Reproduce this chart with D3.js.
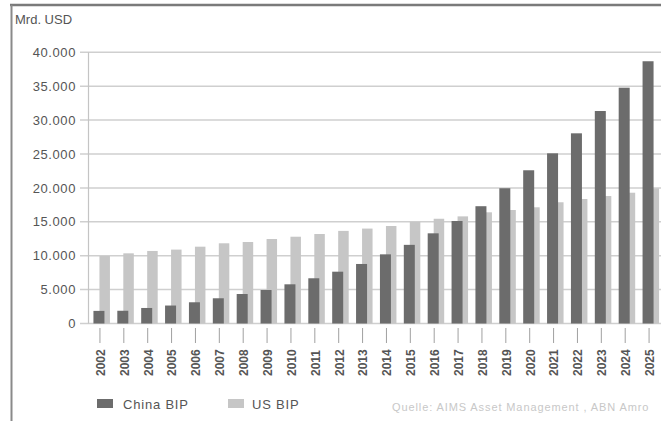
<!DOCTYPE html>
<html>
<head>
<meta charset="utf-8">
<script src="https://cdn.jsdelivr.net/npm/d3@7"></script>
<style>
  body { margin: 0; background: #fff; }
  svg { display: block; font-family: "Liberation Sans", Arial, sans-serif; }
</style>
</head>
<body>
<svg id="chart" width="661" height="421"></svg>
<script>
// values (Mrd. USD)
const years = ["2002","2003","2004","2005","2006","2007","2008","2009","2010","2011","2012","2013",
               "2014","2015","2016","2017","2018","2019","2020","2021","2022","2023","2024","2025"];
const chinaBip = [1860, 1880, 2290, 2650, 3130, 3720, 4350, 4940, 5780, 6670, 7640, 8780,
                  10200, 11600, 13300, 15120, 17300, 19950, 22600, 25100, 28050, 31340, 34780, 38680];
const usBip = [9960, 10350, 10700, 10900, 11330, 11830, 12020, 12460, 12800, 13200, 13660, 14000,
               14380, 15000, 15450, 15800, 16400, 16740, 17140, 17880, 18360, 18800, 19290, 19940];
const yTicks = [0, 5000, 10000, 15000, 20000, 25000, 30000, 35000, 40000];
const seriesNames = ["China BIP", "US BIP"];

const svg = d3.select("#chart");
const colors = {china: "#6c6c6c", us: "#c6c6c6"};

// frame (top and left border)
svg.append("line").attr("x1", 10).attr("x2", 661).attr("y1", 5).attr("y2", 5)
    .attr("stroke", "#7a7a7a").attr("stroke-width", 2.5);
svg.append("line").attr("x1", 11.5).attr("x2", 11.5).attr("y1", 5).attr("y2", 421)
    .attr("stroke", "#8a8a8a").attr("stroke-width", 2);

const x = d3.scaleBand().domain(years).range([88, 661]).padding(0);
const y = d3.scaleLinear().domain([0, 40000]).range([323.5, 52.3]);
const cx = d => x(d) + x.bandwidth() / 2;

// gridlines
svg.append("g").selectAll("line")
    .data(yTicks)
    .enter().append("line")
    .attr("x1", 80).attr("x2", 661)
    .attr("y1", d => y(d)).attr("y2", d => y(d))
    .attr("stroke", "#cfcfcf").attr("stroke-width", 1.5);

// y axis line
svg.append("line").attr("x1", 88.5).attr("x2", 88.5)
    .attr("y1", y(40000)).attr("y2", y(0))
    .attr("stroke", "#c4c4c4").attr("stroke-width", 1.2);

// y tick labels
const fmt = d => d3.format(",")(d).replace(/,/g, ".");
svg.append("g").selectAll("text")
    .data(yTicks)
    .enter().append("text")
    .attr("x", 76).attr("y", d => y(d))
    .attr("dy", "0.36em")
    .attr("text-anchor", "end")
    .attr("font-size", 13)
    .attr("letter-spacing", 0.6)
    .attr("fill", "#555")
    .text(fmt);

svg.append("text").attr("x", 15).attr("y", 24)
    .attr("font-size", 13).attr("fill", "#555")
    .text("Mrd. USD");

// bars: US behind, China in front
svg.append("g").selectAll("rect")
    .data(years)
    .enter().append("rect")
    .attr("x", d => cx(d) - 0.5)
    .attr("width", 10.5)
    .attr("y", (d, i) => y(usBip[i]))
    .attr("height", (d, i) => y(0) - y(usBip[i]))
    .attr("fill", colors.us);

svg.append("g").selectAll("rect")
    .data(years)
    .enter().append("rect")
    .attr("x", d => cx(d) - 6.5)
    .attr("width", 11)
    .attr("y", (d, i) => y(chinaBip[i]))
    .attr("height", (d, i) => y(0) - y(chinaBip[i]))
    .attr("fill", colors.china);

// x ticks and rotated year labels
const xt = svg.append("g").selectAll("g")
    .data(years)
    .enter().append("g");
xt.append("line")
    .attr("x1", d => cx(d)).attr("x2", d => cx(d))
    .attr("y1", 328).attr("y2", 343)
    .attr("stroke", "#a0a0a0").attr("stroke-width", 1);
xt.append("text")
    .attr("transform", d => "translate(" + (cx(d) + 0.5) + ",376) rotate(-90)")
    .attr("dy", "0.36em")
    .attr("font-size", 12)
    .attr("font-weight", "bold")
    .attr("fill", "#555")
    .text(d => d);

// legend
const legendX = [97, 228];
const legend = svg.append("g").selectAll("g")
    .data(seriesNames)
    .enter().append("g")
    .attr("transform", (d, i) => "translate(" + legendX[i] + ",399)");
legend.append("rect")
    .attr("width", 16).attr("height", 9)
    .attr("fill", (d, i) => i === 0 ? colors.china : colors.us);
legend.append("text")
    .attr("x", (d, i) => i === 0 ? 26 : 24).attr("y", 10)
    .attr("font-size", 13)
    .attr("letter-spacing", 0.8)
    .attr("fill", "#555")
    .text(d => d);

// source
svg.append("text").attr("x", 392).attr("y", 411)
    .attr("font-size", 11)
    .attr("letter-spacing", 0.9)
    .attr("fill", "#c8c8c8")
    .text("Quelle: AIMS Asset Management , ABN Amro");
</script>
</body>
</html>
